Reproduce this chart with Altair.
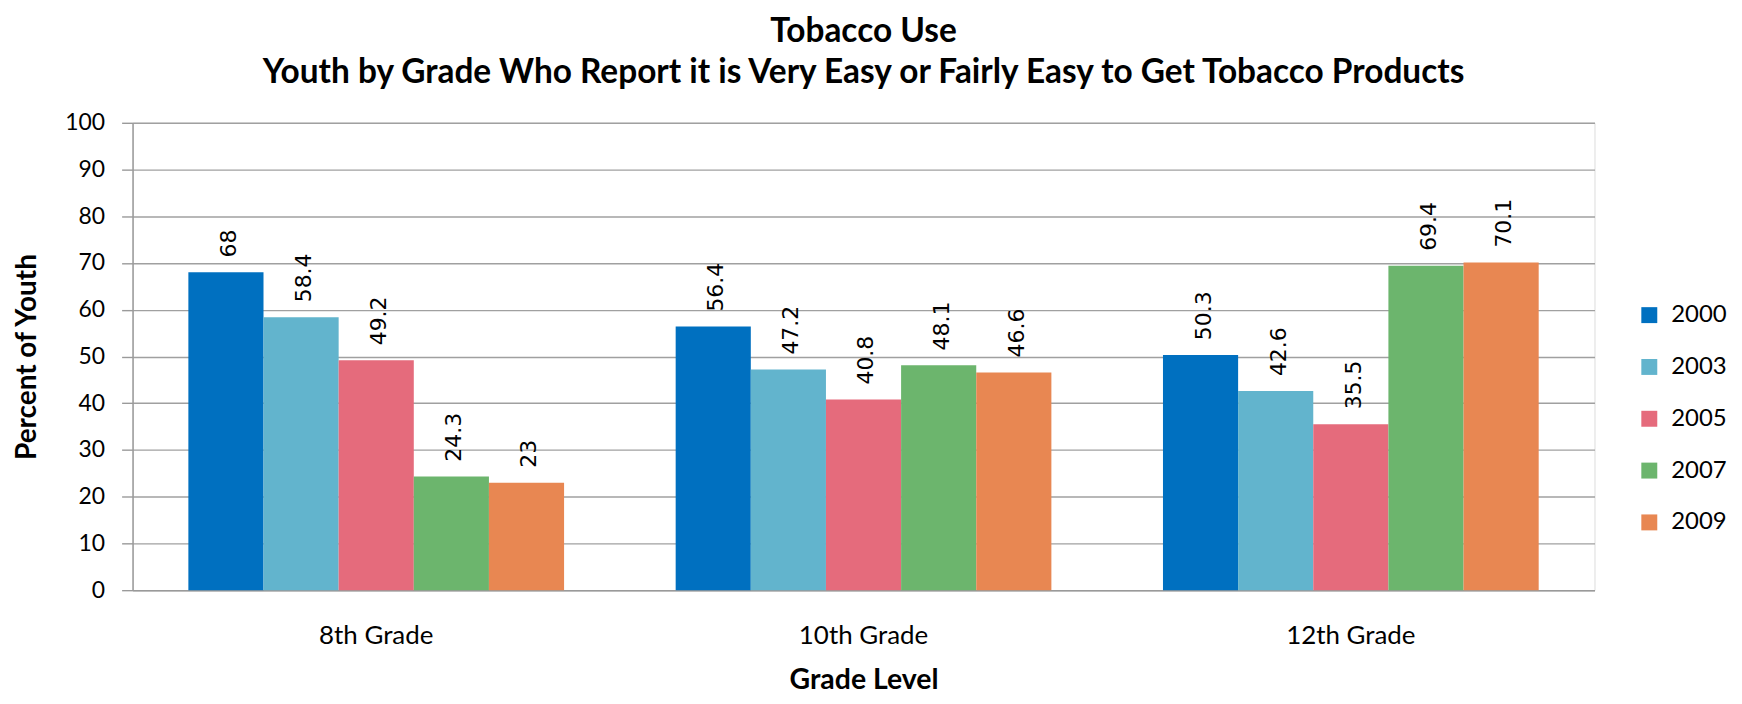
import altair as alt
import pandas as pd

grades = ["8th Grade", "10th Grade", "12th Grade"]
years = ["2000", "2003", "2005", "2007", "2009"]
v2000 = [68, 56.4, 50.3]
v2003 = [58.4, 47.2, 42.6]
v2005 = [49.2, 40.8, 35.5]
v2007 = [24.3, 48.1, 69.4]
v2009 = [23, 46.6, 70.1]
colors = ["#0070C0", "#62B4CD", "#E56B7C", "#6CB56D", "#E88752"]
y_ticks = [0, 10, 20, 30, 40, 50, 60, 70, 80, 90, 100]

rows = []
for yr, vals in zip(years, [v2000, v2003, v2005, v2007, v2009]):
    for g, v in zip(grades, vals):
        rows.append({"grade": g, "year": yr, "value": v, "label": f"{v:g}"})
df = pd.DataFrame(rows)

x_enc = alt.X(
    "grade:N",
    sort=grades,
    scale=alt.Scale(paddingInner=0.229, paddingOuter=0.1145),
    axis=alt.Axis(
        title="Grade Level",
        labelAngle=0,
        ticks=False,
        tickSize=0,
        domainColor="#9A9A9A",
        domainWidth=1.5,
        labelFont="Lato",
        labelFontSize=26,
        labelColor="black",
        labelPadding=33,
        titleFont="Lato",
        titleFontSize=28.5,
        titleFontWeight="bold",
        titleColor="black",
        titlePadding=17,
    ),
)
xoff_enc = alt.XOffset("year:N", sort=years, scale=alt.Scale(paddingInner=0, paddingOuter=0))
y_enc = alt.Y(
    "value:Q",
    scale=alt.Scale(domain=[0, 100], nice=False),
    axis=alt.Axis(
        title="Percent of Youth",
        values=y_ticks,
        grid=True,
        gridColor="#A0A0A0",
        gridWidth=1.4,
        domainColor="#9A9A9A",
        domainWidth=1.5,
        tickColor="#9A9A9A",
        tickSize=11,
        tickWidth=1.4,
        labelFont="Lato",
        labelFontSize=23,
        labelColor="black",
        labelPadding=17,
        titleFont="Lato",
        titleFontSize=28,
        titleFontWeight="bold",
        titleColor="black",
        titlePadding=23,
    ),
)

bars = alt.Chart(df).mark_bar().encode(
    x=x_enc,
    xOffset=xoff_enc,
    y=y_enc,
    color=alt.Color(
        "year:N",
        sort=years,
        scale=alt.Scale(domain=years, range=colors),
        legend=alt.Legend(
            title=None,
            orient="none",
            legendX=1510,
            legendY=181,
            padding=0,
            symbolType="square",
            symbolSize=256,
            symbolStrokeWidth=0,
            labelFont="Lato",
            labelFontSize=24,
            labelColor="black",
            labelOffset=10,
            rowPadding=28,
        ),
    ),
)

labels = alt.Chart(df).mark_text(
    angle=270, align="left", baseline="middle", dx=15, dy=3,
    font="DejaVu Sans", fontSize=22, color="black"
).encode(
    x=alt.X("grade:N", sort=grades),
    xOffset=alt.XOffset("year:N", sort=years),
    y=alt.Y("value:Q"),
    text="label:N",
)

chart = (
    alt.layer(bars, labels)
    .properties(
        width=1467,
        height=469,
        padding={"left": 125, "top": 114, "right": 140, "bottom": 105},
        autosize=alt.AutoSizeParams(type="none"),
        title=alt.TitleParams(
            text=["Tobacco Use", "Youth by Grade Who Report it is Very Easy or Fairly Easy to Get Tobacco Products"],
            font="Lato",
            fontSize=33.5,
            fontWeight="bold",
            lineHeight=42,
            anchor="middle",
            color="black",
            offset=21,
        ),
    )
    .configure_view(strokeWidth=0)
    .configure(background="white")
)

chart.save("out.html", embed_options={"renderer": "svg", "actions": False})
